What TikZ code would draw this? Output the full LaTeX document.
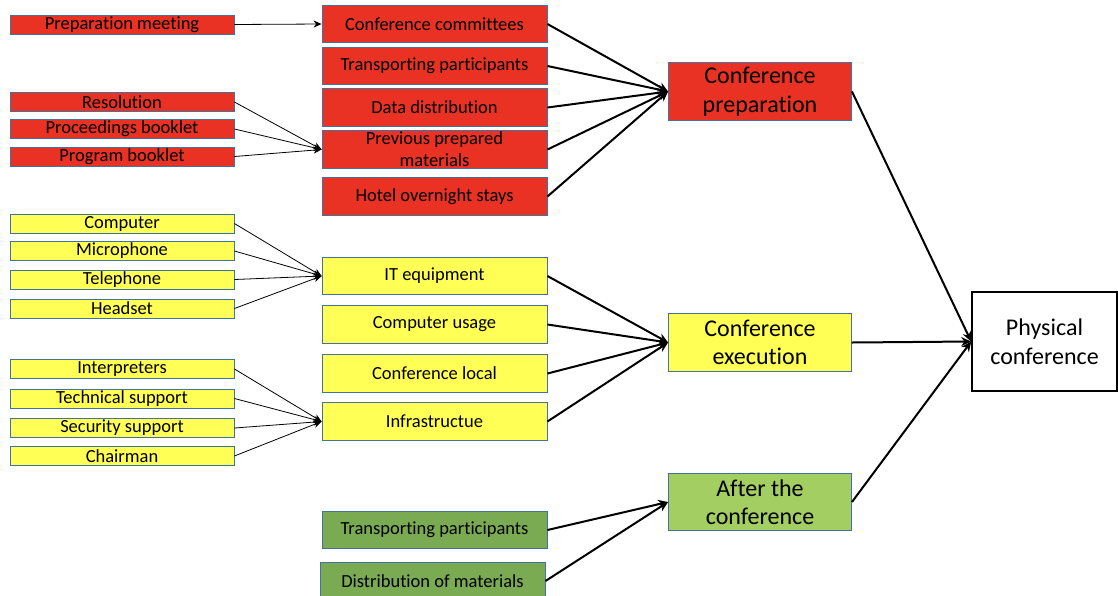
\documentclass[tikz,border=0pt]{standalone}
\usepackage{fontspec}
\setmainfont{Carlito}[Ligatures={NoCommon}]
\usetikzlibrary{arrows.meta}
\definecolor{boxred}{RGB}{233,50,35}
\definecolor{boxyellow}{RGB}{255,255,85}
\definecolor{boxgreen}{RGB}{122,170,82}
\definecolor{boxlightgreen}{RGB}{163,206,98}
\definecolor{boxedge}{RGB}{68,114,160}
\begin{document}
\begin{tikzpicture}[x=1pt,y=-1pt,
  base/.style={rectangle, draw=boxedge, line width=0.9pt, inner sep=0pt, align=center,
    font=\fontsize{18.5}{22}\selectfont},
  leftbox/.style={base, minimum width=224pt, minimum height=19pt},
  midbox/.style={base, minimum width=225pt, minimum height=37.5pt},
  groupbox/.style={base, minimum width=183pt, minimum height=57.5pt,
    font=\fontsize{24}{28.5}\selectfont},
  finalbox/.style={rectangle, draw=black, line width=1.6pt, fill=white, inner sep=0pt,
    align=center, minimum width=145pt, minimum height=99pt,
    font=\fontsize{24}{28.5}\selectfont},
  red/.style={fill=boxred},
  yel/.style={fill=boxyellow},
  grn/.style={fill=boxgreen},
  lgrn/.style={fill=boxlightgreen},
  thinarrow/.style={-{Stealth[length=8pt,width=7pt]}, line width=0.8pt},
  thickarrow/.style={-{Stealth[length=10pt,width=9pt]}, line width=2pt}
]
\useasboundingbox (0,0) rectangle (1118,595);

% left column: red inputs
\node[leftbox,red] (pm)   at (122,24.5)  {Preparation meeting};
\node[leftbox,red] (res)  at (122,102)   {Resolution};
\node[leftbox,red] (proc) at (122,129)   {Proceedings booklet};
\node[leftbox,red] (prog) at (122,156.5) {Program booklet};

% left column: yellow inputs
\node[leftbox,yel] (comp)   at (122,223.5) {Computer};
\node[leftbox,yel] (mic)    at (122,251)   {Microphone};
\node[leftbox,yel] (tel)    at (122,279.5) {Telephone};
\node[leftbox,yel] (head)   at (122,308.5) {Headset};
\node[leftbox,yel] (interp) at (122,369)   {Interpreters};
\node[leftbox,yel] (tech)   at (122,398.5) {Technical support};
\node[leftbox,yel] (sec)    at (122,428)   {Security support};
\node[leftbox,yel] (chair)  at (122,456)   {Chairman};

% middle column
\node[midbox,red] (cc)  at (434.5,24)    {Conference committees};
\node[midbox,red] (tp)  at (434.5,66)    {Transporting participants};
\node[midbox,red] (dd)  at (434.5,107.5) {Data distribution};
\node[midbox,red] (ppm) at (434.5,149.5) {Previous prepared\\materials};
\node[midbox,red] (hos) at (434.5,196.5) {Hotel overnight stays};

\node[midbox,yel] (it)  at (434.5,276)   {IT equipment};
\node[midbox,yel] (cu)  at (434.5,324.5) {Computer usage};
\node[midbox,yel] (cl)  at (434.5,373.5) {Conference local};
\node[midbox,yel] (inf) at (434.5,421.5) {Infrastructue};

\node[midbox,grn] (tp2) at (434.5,530)   {Transporting participants};
\node[midbox,grn] (dom) at (432.5,581)   {Distribution of materials};

% phase boxes
\node[groupbox,red]  (prep)  at (760,91.5)  {Conference\\preparation};
\node[groupbox,yel]  (exec)  at (760,342.5) {Conference\\execution};
\node[groupbox,lgrn] (after) at (760,502)   {After the\\conference};

\node[finalbox] (phys) at (1044.5,341.5) {Physical\\conference};

% inputs to middle column
\draw[thinarrow] (pm.east) -- (cc.west);
\foreach \s in {res,proc,prog} \draw[thinarrow] (\s.east) -- (ppm.west);
\foreach \s in {comp,mic,tel,head} \draw[thinarrow] (\s.east) -- (it.west);
\foreach \s in {interp,tech,sec,chair} \draw[thinarrow] (\s.east) -- (inf.west);

% middle column to phases
\foreach \s in {cc,tp,dd,ppm,hos} \draw[thickarrow] (\s.east) -- (prep.west);
\foreach \s in {it,cu,cl,inf} \draw[thickarrow] (\s.east) -- (exec.west);
\foreach \s in {tp2,dom} \draw[thickarrow] (\s.east) -- (after.west);

% phases to the conference
\foreach \s in {prep,exec,after} \draw[thickarrow] (\s.east) -- (phys.west);
\end{tikzpicture}
\end{document}
